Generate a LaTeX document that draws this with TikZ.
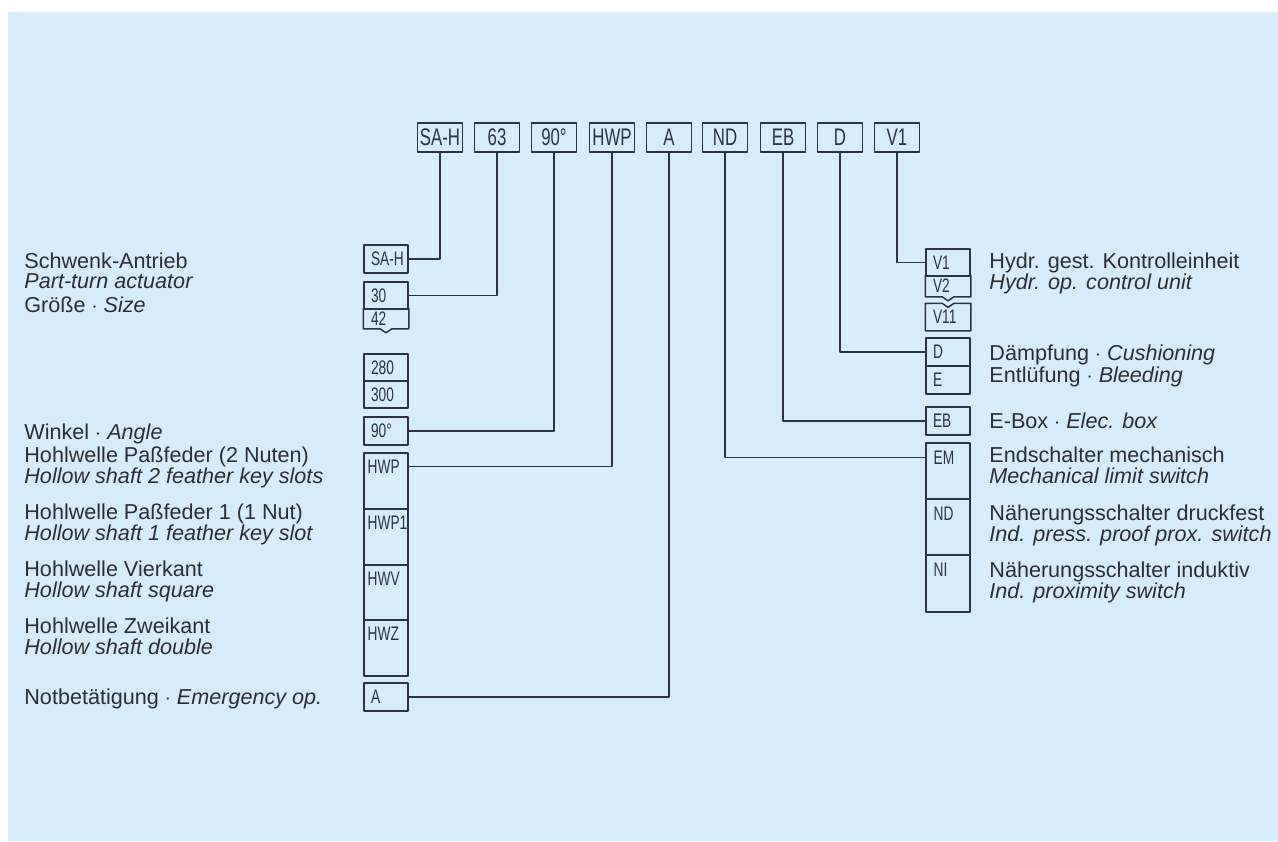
\documentclass[tikz,border=0pt]{standalone}
\usepackage{fontspec}
\setmainfont{Liberation Sans}
\newfontfamily\codefont[FakeStretch=0.7]{Liberation Sans}
\usepackage{tikz}
\usetikzlibrary{calc,positioning}
\definecolor{sheetblue}{RGB}{214,236,250}
\definecolor{codeline}{RGB}{44,48,74}
\definecolor{labelgray}{RGB}{46,46,50}

\begin{document}
\begin{tikzpicture}[x=.5pt,y=-.5pt,line cap=round,line join=round,
 topbox/.style={draw=codeline,line width=.75pt,minimum width=22.5pt,minimum height=14.5pt,
  inner sep=0pt,text=codeline,font=\codefont\fontsize{12}{12}\selectfont},
 colbox/.style={draw=codeline,line width=.75pt,text width=15pt,inner xsep=3.5pt,inner ysep=0pt,
  align=left,text=codeline,font=\codefont\fontsize{9.8}{9.8}\selectfont},
 tallbox/.style={draw=codeline,line width=.75pt,minimum width=22pt,inner sep=0pt},
 tag/.style={anchor=west,inner sep=0pt,text=codeline,font=\codefont\fontsize{9.8}{9.8}\selectfont},
 lbl/.style={anchor=base west,inner sep=0pt,text=labelgray,font=\fontsize{10.8}{12}\selectfont},
 wire/.style={draw=codeline,line width=.75pt}]
% Tło arkusza z białym marginesem.
\useasboundingbox (0,0) rectangle (1278,841);
\fill[sheetblue] (8,12) rectangle (1278,841);
% Górny rząd kodu zamówienia.
\foreach \n/\t/\x in {SAH/SA-H/440,63/63/497,90/90°/554,HWP/HWP/612,A/A/669,
 ND/ND/725,EB/EB/783,D/D/840,V1/V1/897}
 \node[topbox] (top\n) at (\x,137.5) {\t};
% Lewa kolumna wariantów.
\node[colbox,minimum height=14pt] (lSAH) at (386,259) {\mbox{SA-H}};
\node[colbox,minimum height=13.5pt] (l30) at (386,295.5) {30};
\node[colbox,draw=none,minimum height=9.5pt] (l42) at (386,318.5) {42};
\draw[wire] (l42.north west) -- (l42.south west) -- ($(l42.south)+(-6,0)$)
 -- ($(l42.south)+(0,4)$) -- ($(l42.south)+(6,0)$) -- (l42.south east) -- (l42.north east);
\node[colbox,minimum height=13.5pt] (l280) at (386,367.5) {280};
\node[colbox,minimum height=13.5pt] (l300) at (386,394.5) {300};
\node[colbox,minimum height=14pt] (l90) at (386,431) {90°};
\foreach \n/\y/\h in {HWP/481/28,HWP1/537/28,HWV/592.5/27.5,HWZ/648/28}{
 \node[tallbox,minimum height=\h pt] (l\n) at (386,\y) {};
 \node[tag] (tag\n) at ($(l\n.north west)+(4,14)$) {\n};
}
\node[colbox,minimum height=14pt] (lA) at (386,697) {A};
% Prawa kolumna wariantów.
\node[colbox,minimum height=13.5pt] (rV1) at (948,262.5) {V1};
\node[colbox,draw=none,minimum height=10pt] (rV2) at (948,286) {V2};
\draw[wire] (rV2.north west) -- (rV2.south west) -- ($(rV2.south)+(-6,0)$)
 -- ($(rV2.south)+(0,4)$) -- ($(rV2.south)+(6,0)$) -- (rV2.south east) -- (rV2.north east);
\node[colbox,draw=none,minimum height=13pt] (rV11) at (948,317) {V11};
\draw[wire] (rV11.north east) -- (rV11.south east) -- (rV11.south west) -- (rV11.north west)
 -- ($(rV11.north)+(-6,0)$) -- ($(rV11.north)+(0,4)$) -- ($(rV11.north)+(6,0)$) -- (rV11.north east);
\node[colbox,minimum height=14pt] (rD) at (948,352) {D};
\node[colbox,minimum height=14pt] (rE) at (948,380) {E};
\node[colbox,minimum height=14pt] (rEB) at (948,421) {EB};
\foreach \n/\y/\h in {EM/471/28,ND/527/28,NI/583.5/28.5}{
 \node[tallbox,minimum height=\h pt] (r\n) at (948,\y) {};
 \node[tag] (tag\n) at ($(r\n.north west)+(8,15)$) {\n};
}
% Połączenia od kodu do wariantów.
\draw[wire] (topSAH) |- (lSAH);
\draw[wire] (top63) |- (l30);
\draw[wire] (top90) |- (l90);
\draw[wire] (topHWP) |- (lHWP.east |- tagHWP);
\draw[wire] (topA) |- (lA);
\draw[wire] (topND) |- (rEM.west |- tagEM);
\draw[wire] (topEB) |- (rEB);
\draw[wire] (topD) |- (rD);
\draw[wire] (topV1) |- (rV1);
% Opisy po lewej.
\foreach \y/\t in {268/Schwenk-Antrieb,288/\textit{Part-turn actuator},
 312/Größe $\cdot$ \textit{Size},439/Winkel $\cdot$ \textit{Angle},
 462/Hohlwelle Paßfeder (2 Nuten),483/\textit{Hollow shaft 2 feather key slots},
 519/Hohlwelle Paßfeder 1 (1 Nut),540/\textit{Hollow shaft 1 feather key slot},
 576/Hohlwelle Vierkant,597/\textit{Hollow shaft square},
 633/Hohlwelle Zweikant,654/\textit{Hollow shaft double},
 704/Notbetätigung $\cdot$ \textit{Emergency op.}}
 \node[lbl] (lt\y) at (24,\y) {\t};
% Opisy po prawej.
\foreach \y/\t in {268/Hydr. gest. Kontrolleinheit,289/\textit{Hydr. op. control unit},
 360/Dämpfung $\cdot$ \textit{Cushioning},382/Entlüfung $\cdot$ \textit{Bleeding},
 428/E-Box $\cdot$ \textit{Elec. box},
 462/Endschalter mechanisch,483/\textit{Mechanical limit switch},
 520/Näherungsschalter druckfest,541/\textit{Ind. press. proof prox. switch},
 577/Näherungsschalter induktiv,598/\textit{Ind. proximity switch}}
 \node[lbl] (rt\y) at (989,\y) {\t};
\end{tikzpicture}
\end{document}
